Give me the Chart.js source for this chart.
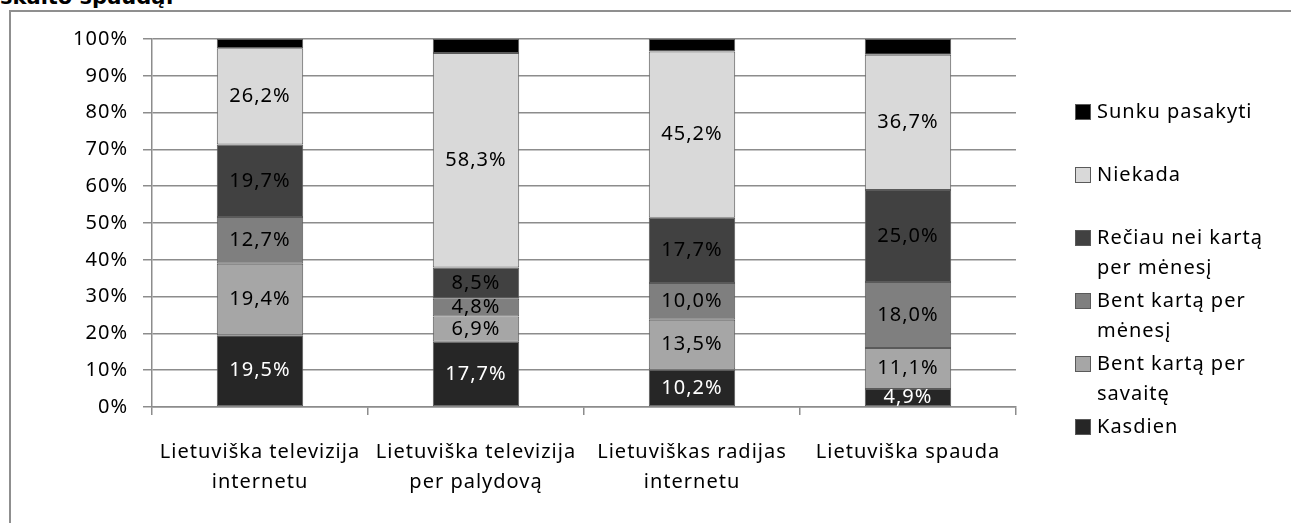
<!DOCTYPE html>
<html>
<head>
<meta charset="utf-8">
<script src="https://cdn.jsdelivr.net/npm/chart.js@4/dist/chart.umd.min.js"></script>
<style>
  html, body { margin: 0; padding: 0; background: #fff; overflow: hidden; }
  body { width: 1291px; height: 523px; position: relative; }
  .heading {
    position: absolute; left: 0; top: -13px;
    font: bold 21px "DejaVu Sans", sans-serif; line-height: 20px;
    color: #000; white-space: nowrap;
  }
  .frame {
    position: absolute; left: 9px; top: 10px;
    width: 1400px; height: 700px;
    border: 2px solid #8f8f8f;
  }
  #chart { position: absolute; left: 0; top: 0; }
</style>
</head>
<body>
<div class="heading">skaito spaudą:</div>
<div class="frame"></div>
<canvas id="chart" width="1291" height="523"></canvas>
<script>
// categories and series (percent of respondents)
const categories = [
  ['Lietuviška televizija', 'internetu'],
  ['Lietuviška televizija', 'per palydovą'],
  ['Lietuviškas radijas', 'internetu'],
  ['Lietuviška spauda'],
];

const kasdien      = [19.5, 17.7, 10.2, 4.9];
const kartaSavaite = [19.4, 6.9, 13.5, 11.1];
const kartaMenesi  = [12.7, 4.8, 10.0, 18.0];
const reciau       = [19.7, 8.5, 17.7, 25.0];
const niekada      = [26.2, 58.3, 45.2, 36.7];
const sunku        = [2.5, 3.8, 3.4, 4.3];

const yTicks = [0, 10, 20, 30, 40, 50, 60, 70, 80, 90, 100];

const FONT = '"Noto Sans", sans-serif';
const SIZE = 20;
const GRID = '#8c8c8c';

const series = [
  { label: ['Kasdien'], data: kasdien, color: '#262626', text: '#ffffff' },
  { label: ['Bent kartą per', 'savaitę'], data: kartaSavaite, color: '#a6a6a6', text: '#000000' },
  { label: ['Bent kartą per', 'mėnesį'], data: kartaMenesi, color: '#7f7f7f', text: '#000000' },
  { label: ['Rečiau nei kartą', 'per mėnesį'], data: reciau, color: '#414141', text: '#000000' },
  { label: ['Niekada'], data: niekada, color: '#d9d9d9', text: '#000000' },
  { label: ['Sunku pasakyti'], data: sunku, color: '#000000', text: null },
];

const formatPct = v => v.toFixed(1).replace('.', ',') + '%';

// the original text is set a bit loose
const spacing = {
  id: 'spacing',
  beforeDraw(chart) {
    chart.ctx.letterSpacing = '1px';
  }
};

// value labels centred in each segment
const valueLabels = {
  id: 'valueLabels',
  afterDatasetsDraw(chart) {
    const { ctx } = chart;
    ctx.save();
    ctx.font = `${SIZE}px ${FONT}`;
    ctx.textAlign = 'center';
    ctx.textBaseline = 'middle';
    chart.data.datasets.forEach((ds, i) => {
      if (!ds.labelColor) return;
      ctx.fillStyle = ds.labelColor;
      chart.getDatasetMeta(i).data.forEach((bar, j) => {
        ctx.fillText(formatPct(ds.data[j]), bar.x, (bar.y + bar.base) / 2);
      });
    });
    ctx.restore();
  }
};

// legend on the right, last series on top, wrapped labels
const sideLegend = {
  id: 'sideLegend',
  afterDraw(chart) {
    const { ctx } = chart;
    const boxX = 1075;
    const textX = 1097;
    const firstY = 112;
    const step = 63;
    const lineGap = 30;
    ctx.save();
    ctx.font = `${SIZE}px ${FONT}`;
    ctx.textBaseline = 'middle';
    ctx.textAlign = 'left';
    const items = chart.data.datasets.slice().reverse();
    items.forEach((ds, k) => {
      const y = firstY + step * k;
      ctx.fillStyle = ds.backgroundColor;
      ctx.fillRect(boxX, y - 8, 16, 16);
      ctx.strokeStyle = '#5a5a5a';
      ctx.lineWidth = 1;
      ctx.strokeRect(boxX + 0.5, y - 7.5, 15, 15);
      ctx.fillStyle = '#000';
      ds.label.forEach((line, n) => ctx.fillText(line, textX, y + n * lineGap));
    });
    ctx.restore();
  }
};

new Chart(document.getElementById('chart').getContext('2d'), {
  type: 'bar',
  data: {
    labels: categories,
    datasets: series.map(s => ({
      label: s.label,
      data: s.data,
      backgroundColor: s.color,
      borderColor: '#5a5a5a',
      borderWidth: 1,
      borderSkipped: false,
      labelColor: s.text,
      barPercentage: 0.4,
      categoryPercentage: 1,
    })),
  },
  options: {
    responsive: false,
    animation: false,
    layout: { padding: { left: 0, right: 275, top: 39, bottom: 0 } },
    plugins: {
      legend: { display: false },
      tooltip: { enabled: false },
    },
    scales: {
      x: {
        stacked: true,
        afterFit: s => { s.height = 116; },
        grid: {
          offset: true,
          drawOnChartArea: false,
          color: GRID,
          lineWidth: 1.5,
          tickLength: 8,
        },
        border: { color: GRID, width: 1.5 },
        ticks: {
          color: '#000',
          padding: 22,
          maxRotation: 0,
          font: { family: FONT, size: SIZE, lineHeight: 1.5 },
        },
      },
      y: {
        stacked: true,
        min: 0,
        max: 100,
        afterFit: s => { s.width = 152; },
        afterBuildTicks: s => { s.ticks = yTicks.map(v => ({ value: v })); },
        grid: { color: GRID, lineWidth: 1.5, tickLength: 9 },
        border: { color: GRID, width: 1.5 },
        ticks: {
          color: '#000',
          padding: 15,
          font: { family: FONT, size: SIZE },
          callback: v => v + '%',
        },
      },
    },
  },
  plugins: [spacing, valueLabels, sideLegend],
});
</script>
</body>
</html>
